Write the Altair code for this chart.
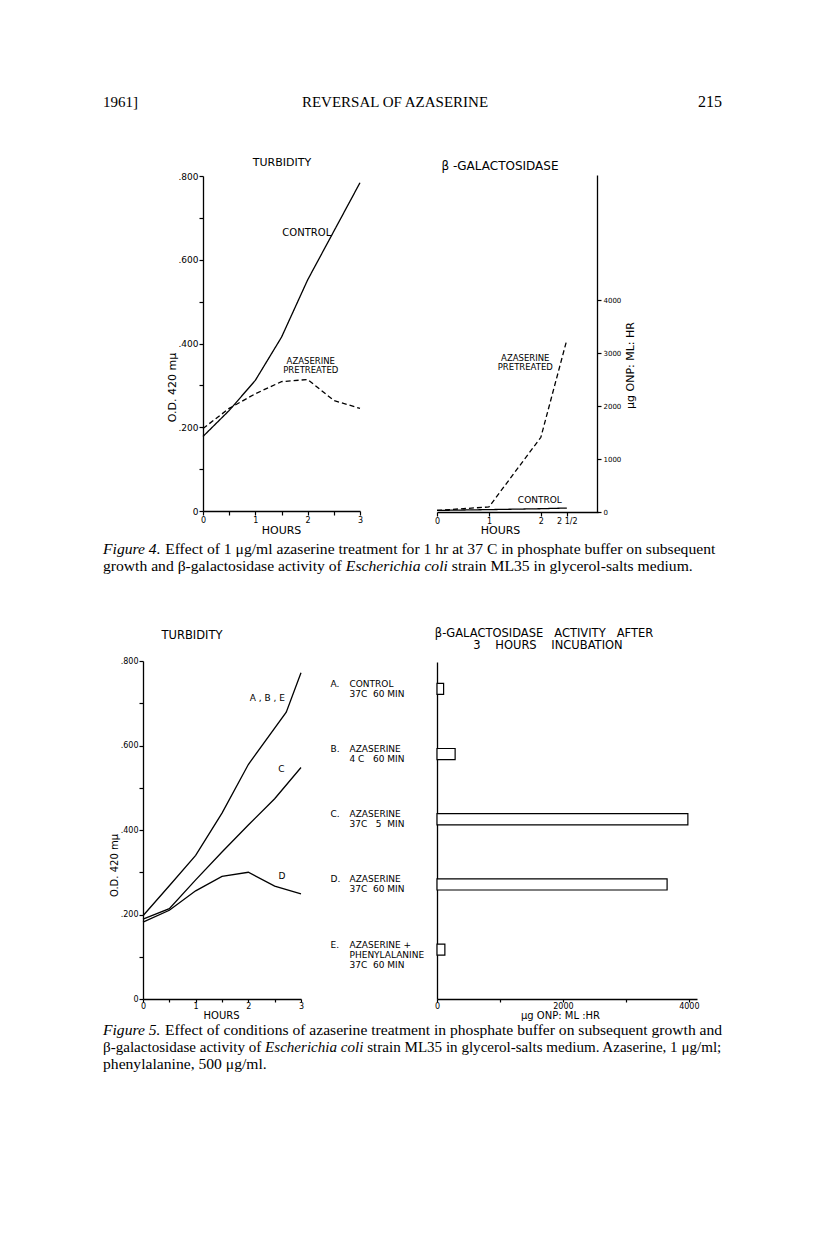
import altair as alt
import pandas as pd

# ---------------- values ----------------
# Figure 4, turbidity (O.D. 420 m\u03bc) against hours
fig4_hours = [0, 0.5, 1, 1.5, 2, 2.5, 3]
fig4_control_od = [0.178, 0.240, 0.312, 0.415, 0.552, 0.668, 0.784]
fig4_aza_od = [0.197, 0.245, 0.280, 0.309, 0.314, 0.264, 0.245]

# Figure 4, beta-galactosidase (\u03bcg ONP/ml/hr) against hours
fig4_gal_hours = [0, 1, 2, 2.5]
fig4_gal_control = [30, 45, 62, 75]
fig4_gal_aza = [30, 95, 1410, 3250]

# Figure 5, turbidity
fig5_abe_hours = [0, 0.5, 1, 1.5, 2, 2.72, 3]
fig5_abe_od = [0.197, 0.268, 0.340, 0.440, 0.555, 0.679, 0.772]
fig5_hours = [0, 0.5, 1, 1.5, 2, 2.5, 3]
fig5_c_od = [0.189, 0.214, 0.282, 0.348, 0.412, 0.474, 0.548]
fig5_d_od = [0.182, 0.210, 0.256, 0.290, 0.300, 0.267, 0.249]

# Figure 5, beta-galactosidase activity after 3 hours incubation
fig5_letters = ["A", "B", "C", "D", "E"]
fig5_conditions = [
    "CONTROL|37C\u00a0\u00a060 MIN",
    "AZASERINE|4 C\u00a0\u00a0\u00a060 MIN",
    "AZASERINE|37C\u00a0\u00a0\u00a05\u00a0\u00a0MIN",
    "AZASERINE|37C\u00a0\u00a060 MIN",
    "AZASERINE +|PHENYLALANINE|37C\u00a0\u00a060 MIN",
]
fig5_activity = [105, 288, 3985, 3655, 125]

od_ticks = [0, 0.1, 0.2, 0.3, 0.4, 0.5, 0.6, 0.7, 0.8]
hour_ticks = [0, 0.5, 1, 1.5, 2, 2.5, 3]
gal_hour_ticks = [0, 1, 2, 2.5]
gal_ticks = [0, 1000, 2000, 3000, 4000]

# ---------------- page geometry ----------------
W, H = 800, 1236


def X(p):
    return p - 8


def Y(p):
    return p - 8


SANS = "DejaVu Sans"
SERIF = "Liberation Serif"
NB = "\u00a0"


def ax(orient, pos, **kw):
    if orient == "left":
        off = -X(pos)
    elif orient == "right":
        off = X(pos) - W
    else:
        off = Y(pos) - H
    base = dict(orient=orient, offset=off, grid=False, domainColor="black", domainWidth=1.3,
                tickColor="black", tickWidth=1.2, tickSize=4, labelFont=SANS, labelFontSize=8,
                labelColor="black", labelPadding=1, titleFont=SANS, titleFontSize=10,
                titleFontWeight="normal", titleColor="black", labelFlush=False, labelOverlap=False,
                labelBound=False)
    base.update(kw)
    return alt.Axis(**base)


od_label = ("datum.value == 0 ? '0' : (round(datum.value * 10) % 2 == 0 ? "
            "replace(format(datum.value, '.3f'), '0.', '.') : '')")
hour_label = "datum.value % 1 == 0 ? format(datum.value, 'd') : ''"

dash_scale = alt.Scale(domain=["CONTROL", "AZASERINE PRETREATED"], range=[[1, 0], [5, 3]])

layers = []

# ---------- Figure 4, turbidity ----------
x4a = alt.Scale(domain=[0, 3], range=[X(203), X(360)], nice=False, zero=False)
y4a = alt.Scale(domain=[0, 0.8], range=[Y(511), Y(176)], nice=False, zero=False)
f4a = pd.DataFrame({
    "hours": fig4_hours + fig4_hours,
    "od": fig4_control_od + fig4_aza_od,
    "series": ["CONTROL"] * len(fig4_hours) + ["AZASERINE PRETREATED"] * len(fig4_hours),
})
layers.append(alt.Chart(f4a).mark_line(color="black", strokeWidth=1.3).encode(
    x=alt.X("hours:Q", scale=x4a, axis=ax("bottom", 511, values=hour_ticks, labelExpr=hour_label,
                                           labelFontSize=8, title="HOURS", titleX=X(281), titleY=19,
                                           titleBaseline="middle", titleFontSize=11)),
    y=alt.Y("od:Q", scale=y4a, axis=ax("left", 203, values=od_ticks, labelExpr=od_label, labelFontSize=9,
                                        title="O.D.  420 m\u03bc", titleAngle=270, titleX=172 - 203,
                                        titleY=Y(387), titleBaseline="middle", titleAlign="center",
                                        titleFontSize=11)),
    strokeDash=alt.StrokeDash("series:N", scale=dash_scale, legend=None),
    detail="series:N",
))

# ---------- Figure 4, beta-galactosidase ----------
x4b = alt.Scale(domain=[0, 3.1], range=[X(437), X(598)], nice=False, zero=False)
y4b = alt.Scale(domain=[0, 6360], range=[Y(512), Y(175)], nice=False, zero=False)
f4b = pd.DataFrame({
    "hours": fig4_gal_hours + fig4_gal_hours,
    "act": fig4_gal_control + fig4_gal_aza,
    "series": ["CONTROL"] * len(fig4_gal_hours) + ["AZASERINE PRETREATED"] * len(fig4_gal_hours),
})
layers.append(alt.Chart(f4b).mark_line(color="black", strokeWidth=1.3).encode(
    x=alt.X("hours:Q", scale=x4b, axis=ax("bottom", 512, values=gal_hour_ticks,
                                           labelExpr="datum.value == 2.5 ? '2 1/2' : format(datum.value, 'd')",
                                           title="HOURS", titleX=X(500), titleY=18, titleBaseline="middle",
                                           titleFontSize=11)),
    y=alt.Y("act:Q", scale=y4b, axis=ax("right", 597, values=gal_ticks, format="d", labelFontSize=7,
                                         labelPadding=2, title="\u03bcg ONP: ML: HR", titleAngle=270,
                                         titleX=630 - 597, titleY=Y(365), titleBaseline="middle",
                                         titleAlign="center", titleFontSize=11)),
    strokeDash=alt.StrokeDash("series:N", scale=dash_scale, legend=None),
    detail="series:N",
))

# ---------- Figure 5, turbidity ----------
x5a = alt.Scale(domain=[0, 3], range=[X(143), X(301)], nice=False, zero=False)
y5a = alt.Scale(domain=[0, 0.8], range=[Y(999), Y(661)], nice=False, zero=False)
f5a = pd.DataFrame({
    "hours": fig5_abe_hours + fig5_hours + fig5_hours,
    "od": fig5_abe_od + fig5_c_od + fig5_d_od,
    "series": ["A, B, E"] * len(fig5_abe_hours) + ["C"] * len(fig5_hours) + ["D"] * len(fig5_hours),
})
layers.append(alt.Chart(f5a).mark_line(color="black", strokeWidth=1.3).encode(
    x=alt.X("hours:Q", scale=x5a, axis=ax("bottom", 999, values=hour_ticks, labelExpr=hour_label,
                                           tickSize=3, labelPadding=0, labelFontSize=8,
                                           title="HOURS", titleX=X(221), titleY=16, titleBaseline="middle",
                                           titleFontSize=10)),
    y=alt.Y("od:Q", scale=y5a, axis=ax("left", 143, values=od_ticks, labelExpr=od_label, labelFontSize=8,
                                        title="O.D. 420 m\u03bc", titleAngle=270, titleX=114 - 143,
                                        titleY=Y(865), titleBaseline="middle", titleAlign="center",
                                        titleFontSize=10)),
    detail="series:N",
))

# ---------- Figure 5, bars ----------
x5b = alt.Scale(domain=[0, 4130], range=[X(437), X(697)], nice=False, zero=True)
f5b = pd.DataFrame({
    "cond": [f"{l}|{c}" for l, c in zip(fig5_letters, fig5_conditions)],
    "activity": fig5_activity,
})
y5b = alt.Scale(type="band", domain=f5b["cond"].tolist(), range=[Y(662), Y(999)], paddingInner=0.83,
                paddingOuter=0.499, align=0.327)
layers.append(alt.Chart(f5b).mark_bar(fill="white", stroke="black", strokeWidth=1.2).encode(
    x=alt.X("activity:Q", scale=x5b, axis=ax("bottom", 999, values=gal_ticks, tickSize=3, labelPadding=0,
                                              labelExpr="datum.value % 2000 == 0 ? format(datum.value, 'd') : ''",
                                              title="\u03bcg ONP: ML :HR", titleX=X(560), titleY=16,
                                              titleBaseline="middle", titleFontSize=10)),
    y=alt.Y("cond:N", scale=y5b, axis=ax("left", 437, ticks=False, tickSize=0, labelAlign="left",
                                          labelPadding=437 - 349, labelBaseline="middle", labelLineHeight=10,
                                          labelOffset=-5, labelFontSize=9,
                                          labelExpr="slice(split(datum.value, '|'), 1)", title=None)),
))
layers.append(alt.Chart(f5b).mark_point(opacity=0).encode(
    y=alt.Y("cond:N", scale=y5b, axis=ax("left", 437, ticks=False, tickSize=0, domain=False, labelAlign="left",
                                          labelPadding=437 - 330, labelBaseline="middle", labelOffset=-5,
                                          labelFontSize=9, labelExpr="split(datum.value, '|')[0] + '.'",
                                          title=None)),
))

# ---------- in-panel labels (placed through the panel scales) ----------
dummy = pd.DataFrame({"k": [0]})


def panel_text(txt, xv, yv, xs, ys, size, align="center", lh=None):
    kw = dict(text=txt, font=SANS, fontSize=size, align=align, baseline="middle", color="black")
    if lh:
        kw["lineHeight"] = lh
    return alt.Chart(dummy).mark_text(**kw).encode(
        x=alt.X(datum=xv, type="quantitative", scale=xs, axis=None),
        y=alt.Y(datum=yv, type="quantitative", scale=ys, axis=None),
    )


layers += [
    panel_text("CONTROL", 2.45, 0.665, x4a, y4a, 10, align="right"),
    panel_text(["AZASERINE", "PRETREATED"], 2.06, 0.358, x4a, y4a, 8.5, lh=9),
    panel_text(["AZASERINE", "PRETREATED"], 1.70, 2900, x4b, y4b, 8.5, lh=9),
    panel_text("CONTROL", 1.98, 230, x4b, y4b, 9),
    panel_text("A , B , E", 2.36, 0.712, x5a, y5a, 9),
    panel_text("C", 2.63, 0.545, x5a, y5a, 9),
    panel_text("D", 2.64, 0.292, x5a, y5a, 9),
]

# ---------- page text: header, panel titles, captions ----------


def page_text(txt, x, y, size, font=SERIF, align="left", style="normal", lh=None):
    kw = dict(text=txt, font=font, fontSize=size, align=align, baseline="middle", fontStyle=style,
              color="black")
    if lh:
        kw["lineHeight"] = lh
    return alt.Chart(dummy).mark_text(**kw).encode(x=alt.value(X(x)), y=alt.value(Y(y)))


layers += [
    page_text("1961]", 103, 102, 15),
    page_text("REVERSAL OF AZASERINE", 395, 102, 15, align="center"),
    page_text("215", 722, 102, 16, align="right"),
    page_text("TURBIDITY", 282, 163, 11, font=SANS, align="center"),
    page_text("\u03b2 -GALACTOSIDASE", 500, 166, 12, font=SANS, align="center"),
    page_text("TURBIDITY", 192, 636, 11.5, font=SANS, align="center"),
    page_text("\u03b2-GALACTOSIDASE" + NB * 3 + "ACTIVITY" + NB * 3 + "AFTER", 544, 634, 11.5,
              font=SANS, align="center"),
    page_text("3" + NB * 4 + "HOURS" + NB * 4 + "INCUBATION", 548, 646, 11.5, font=SANS, align="center"),
]

# caption layout with Times-compatible (Liberation Serif) advance widths
REG = dict(zip("abcdefghijklmnopqrstuvwxyz",
               [444, 500, 444, 500, 444, 333, 500, 500, 278, 278, 500, 278, 778, 500, 500, 500, 500, 333,
                389, 278, 500, 500, 722, 500, 500, 444]))
REG.update({"A": 722, "C": 667, "E": 611, "F": 556, "L": 611, "M": 889, " ": 250, ".": 250, ",": 250,
            ";": 278, "/": 278, "-": 333, "\u03bc": 500, "\u03b2": 500})
ITA = dict(zip("abcdefghijklmnopqrstuvwxyz",
               [500, 500, 444, 500, 444, 278, 500, 500, 278, 278, 444, 278, 722, 500, 500, 500, 500, 389,
                389, 278, 500, 444, 667, 444, 444, 389]))
ITA.update({"E": 611, "F": 611, " ": 250, ".": 250})


def em(s, italic):
    table = ITA if italic else REG
    return sum(table.get(c, 500) for c in s) / 1000.0


def line_em(segs):
    return sum(em(t, i) for t, i in segs) + 0.25 * (len(segs) - 1)


# (y centre, right end if the line is justified, segments)
caption_lines = [
    (549, 716, [("Figure 4.", True),
                ("Effect of 1 \u03bcg/ml azaserine treatment for 1 hr at 37 C in phosphate buffer on subsequent", False)]),
    (566, None, [("growth and \u03b2-galactosidase activity of", False), ("Escherichia coli", True),
                 ("strain ML35 in glycerol-salts medium.", False)]),
    (1030, 723, [("Figure 5.", True),
                 ("Effect of conditions of azaserine treatment in phosphate buffer on subsequent growth and", False)]),
    (1047, 722, [("\u03b2-galactosidase activity of", False), ("Escherichia coli", True),
                 ("strain ML35 in glycerol-salts medium. Azaserine, 1 \u03bcg/ml;", False)]),
    (1064, None, [("phenylalanine, 500 \u03bcg/ml.", False)]),
]
CAP_LEFT = 103
base_size = (716 - CAP_LEFT) / line_em(caption_lines[0][2])

for y, right, segs in caption_lines:
    size = base_size if right is None else min(base_size * 1.02, (right - CAP_LEFT) / line_em(segs))
    x = CAP_LEFT
    for t, it in segs:
        layers.append(page_text(t, x, y, size, style="italic" if it else "normal"))
        x += size * (em(t, it) + 0.25)

chart = alt.layer(*layers).resolve_scale(
    x="independent", y="independent"
).properties(
    width=W, height=H, padding=0, autosize=alt.AutoSizeParams(type="none"), background="white"
).configure_view(stroke=None)

chart.save("out.html", embed_options={"renderer": "svg", "actions": False})
